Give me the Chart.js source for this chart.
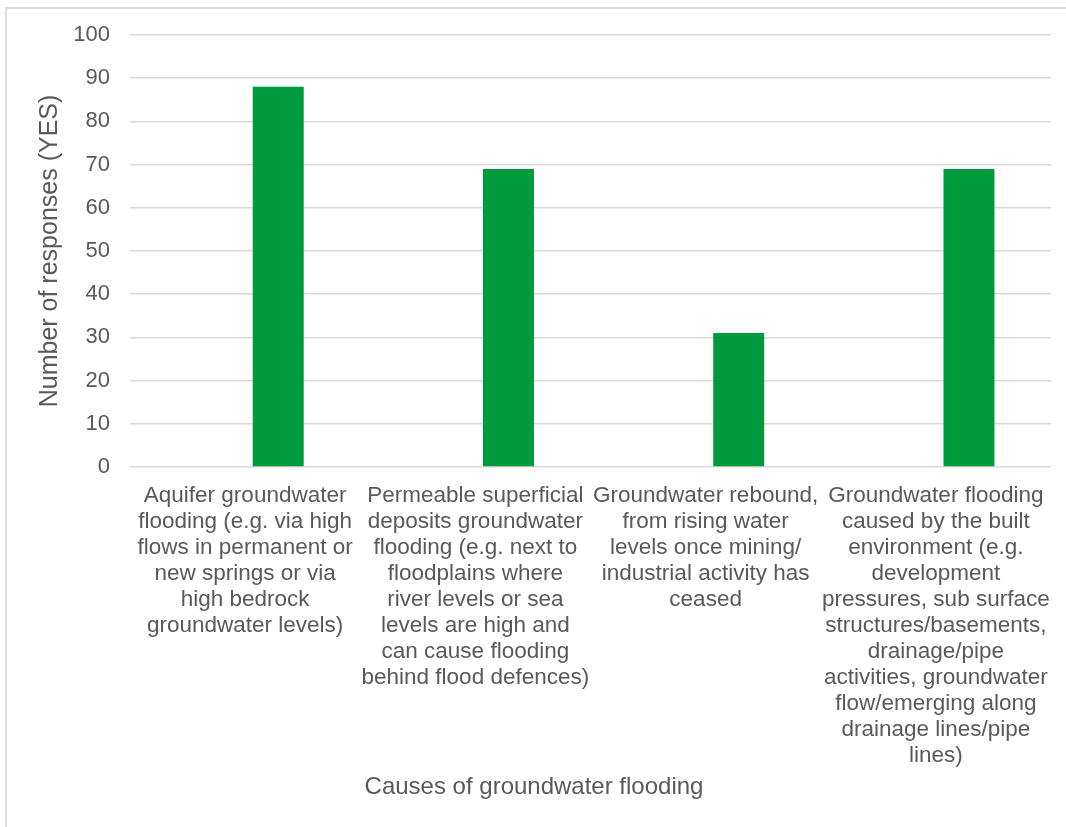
<!DOCTYPE html>
<html>
<head>
<meta charset="utf-8">
<script src="https://cdn.jsdelivr.net/npm/chart.js@4"></script>
<style>
  html, body { margin: 0; padding: 0; background: #fff; overflow: hidden; }
  #frame {
    position: absolute; left: 5px; top: 7px; width: 1061px; height: 820px;
    border-left: 2px solid #dcdcdc; border-top: 2px solid #dcdcdc; box-sizing: border-box;
  }
  #wrap { position: absolute; left: 0; top: 0; width: 1066px; height: 827px; }
</style>
</head>
<body>
<div id="frame"></div>
<div id="wrap"><canvas id="chart" width="1066" height="827"></canvas></div>
<script>
// categories, one array of wrapped lines per bar
const categories = [
  ['Aquifer groundwater', 'flooding (e.g. via high', 'flows in permanent or', 'new springs or via', 'high bedrock', 'groundwater levels)'],
  ['Permeable superficial', 'deposits groundwater', 'flooding (e.g. next to', 'floodplains where', 'river levels or sea', 'levels are high and', 'can cause flooding', 'behind flood defences)'],
  ['Groundwater rebound,', 'from rising water', 'levels once mining/', 'industrial activity has', 'ceased'],
  ['Groundwater flooding', 'caused by the built', 'environment (e.g.', 'development', 'pressures, sub surface', 'structures/basements,', 'drainage/pipe', 'activities, groundwater', 'flow/emerging along', 'drainage lines/pipe', 'lines)']
];
// the source chart keeps an empty first series, which pushes the bars right of centre
const emptySeries = [null, null, null, null];
const responses = [88, 69, 31, 69];

const yMin = 0;
const yMax = 100;
const yStep = 10;

const xTitle = 'Causes of groundwater flooding';
const yTitle = 'Number of responses (YES)';

const textColor = '#595959';
const fontFamily = '"Liberation Sans", Arial, sans-serif';

const axisTitles = {
  id: 'axisTitles',
  afterDraw(chart) {
    const ctx = chart.ctx;
    const area = chart.chartArea;
    ctx.save();
    ctx.fillStyle = textColor;
    ctx.textAlign = 'center';
    ctx.textBaseline = 'middle';
    ctx.font = '24px ' + fontFamily;
    ctx.fillText(xTitle, 534, 787);
    ctx.font = '25px ' + fontFamily;
    ctx.translate(50, (area.top + area.bottom) / 2);
    ctx.rotate(-Math.PI / 2);
    ctx.fillText(yTitle, 0, 0);
    ctx.restore();
  }
};

new Chart(document.getElementById('chart'), {
  type: 'bar',
  data: {
    labels: categories,
    datasets: [
      { label: 'Series 1', data: emptySeries, backgroundColor: '#009a3e' },
      { label: 'Series 2', data: responses, backgroundColor: '#009a3e' }
    ]
  },
  options: {
    responsive: false,
    devicePixelRatio: 1,
    animation: false,
    categoryPercentage: 0.575,
    barPercentage: 0.77,
    layout: { padding: { top: 35, right: 15, bottom: 0, left: 0 } },
    plugins: {
      legend: { display: false },
      tooltip: { enabled: false }
    },
    scales: {
      x: {
        grid: { display: false },
        border: { display: false },
        ticks: {
          color: textColor,
          font: { family: fontFamily, size: 22.5, lineHeight: 1.156 },
          padding: 8,
          maxRotation: 0,
          autoSkip: false
        },
        afterFit: scale => { scale.height = 360; }
      },
      y: {
        min: yMin,
        max: yMax,
        grid: { color: '#d9d9d9', lineWidth: 1.5, drawTicks: false },
        border: { display: false },
        ticks: {
          stepSize: yStep,
          color: textColor,
          font: { family: fontFamily, size: 22 },
          padding: 20
        },
        afterFit: scale => { scale.width = 130; }
      }
    }
  },
  plugins: [axisTitles]
});
</script>
</body>
</html>
